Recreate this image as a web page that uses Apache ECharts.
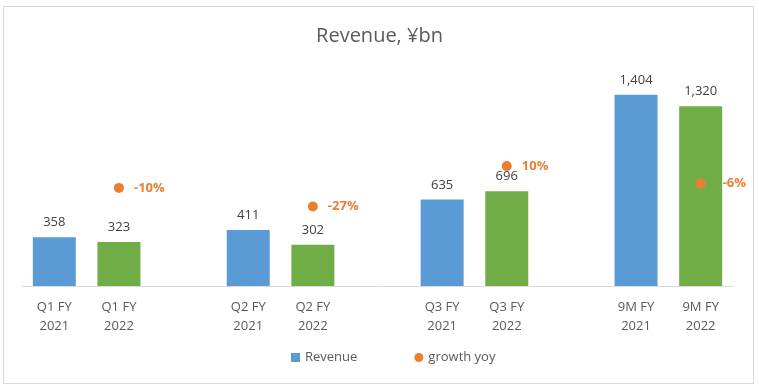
<!DOCTYPE html>
<html><head><meta charset="utf-8">
<script src="https://cdn.jsdelivr.net/npm/echarts@6/dist/echarts.min.js"></script>
<style>html,body{margin:0;padding:0;background:#fff}#c{width:759px;height:386px}
#frame{position:absolute;left:3px;top:6px;width:749px;height:376px;border:1px solid #d9d9d9;pointer-events:none}</style>
</head><body><div id="c"></div><div id="frame"></div>
<script>
const categories = ['Q1 FY\n2021','Q1 FY\n2022','','Q2 FY\n2021','Q2 FY\n2022','','Q3 FY\n2021','Q3 FY\n2022','','9M FY\n2021','9M FY\n2022'];
const revenue = [358,323,null,411,302,null,635,696,null,1404,1320];
const growthYoy = [null,-10,null,null,-27,null,null,10,null,null,-6];
const BLUE='#5B9BD5', GREEN='#70AD47', ORANGE='#ED7D31';
const FONT='Open Sans';
const chart = echarts.init(document.getElementById('c'));
chart.setOption({
  animation:false,
  textStyle:{fontFamily:FONT},
  title:{text:'Revenue, ¥bn',left:'center',top:21,textStyle:{fontFamily:FONT,fontSize:20,fontWeight:'normal',color:'#595959'}},
  legend:{bottom:17,left:286,itemWidth:9,itemHeight:9,itemGap:57,
    textStyle:{fontFamily:FONT,fontSize:13,color:'#595959'},
    data:[{name:'Revenue',icon:'rect',itemStyle:{color:BLUE}},{name:'growth yoy',icon:'circle',itemStyle:{color:ORANGE}}]},
  grid:{left:22,right:26,top:68,bottom:100},
  xAxis:{type:'category',data:categories,axisTick:{show:false},
    axisLine:{lineStyle:{color:'#d9d9d9'}},
    axisLabel:{interval:0,fontSize:13,color:'#595959',lineHeight:19,margin:12}},
  yAxis:[{type:'value',min:0,max:1600,show:false},{type:'value',min:-100,max:100,show:false}],
  series:[
    {name:'Revenue',type:'bar',barWidth:43,
      data:revenue.map((v,i)=>({value:v,itemStyle:{color:categories[i].indexOf('2021')>=0?BLUE:GREEN}})),
      label:{show:true,position:'top',distance:8,fontSize:13,color:'#404040',
        formatter:p=>p.value==null?'':p.value.toLocaleString('en-US')}},
    {name:'growth yoy',type:'scatter',yAxisIndex:1,symbolSize:10,itemStyle:{color:ORANGE,opacity:1},
      data:growthYoy.map((v,i)=>(v==null?null:{value:v,label:{distance:i===categories.length-1?17:10}})),
      label:{show:true,position:'right',distance:10,fontSize:13,fontWeight:'bold',color:ORANGE,
        formatter:p=>p.value+'%'}}
  ]
});
</script></body></html>
